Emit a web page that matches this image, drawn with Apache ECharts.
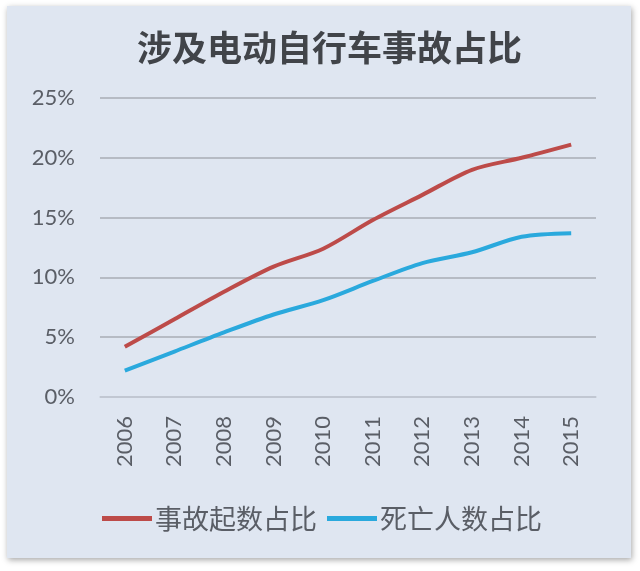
<!DOCTYPE html>
<html><head><meta charset="utf-8">
<script src="https://cdn.jsdelivr.net/npm/echarts@6/dist/echarts.min.js"></script>
<style>html,body{margin:0;padding:0;background:#fff}#c{width:640px;height:571px}</style>
</head><body><div id="c"></div>
<script>
const titleText = '涉及电动自行车事故占比';
const years = ['2006','2007','2008','2009','2010','2011','2012','2013','2014','2015'];
const seriesNames = ['事故起数占比','死亡人数占比'];
const accidentShare = [4.2, 6.5, 8.8, 10.9, 12.4, 14.8, 16.9, 19.0, 20.0, 21.1];
const deathShare = [2.2, 3.8, 5.4, 6.9, 8.1, 9.7, 11.2, 12.1, 13.4, 13.7];

const chart = echarts.init(document.getElementById('c'), null, {renderer:'canvas'});
const fontFam = 'Lato, "Noto Sans CJK SC", sans-serif';
chart.setOption({
  backgroundColor: '#ffffff',
  animation: false,
  graphic: [{
    type: 'rect', left: 7, top: 6, z: -10,
    shape: {width: 624, height: 552},
    style: {fill: '#dfe6f1', shadowBlur: 6, shadowColor: 'rgba(0,0,0,0.35)', shadowOffsetX: 1, shadowOffsetY: 2}
  }],
  title: {
    text: titleText, left: 132, top: 25,
    textStyle: {fontFamily: '"Noto Sans CJK SC", sans-serif', fontSize: 35, fontWeight: 'bold', color: '#414449'}
  },
  legend: {
    top: 500, left: 97, itemWidth: 50, itemHeight: 5, itemGap: 10, icon: 'rect',
    textStyle: {fontFamily: '"Noto Sans CJK SC", sans-serif', fontSize: 27, color: '#5a5e66', padding: [0,0,0,-2]},
    data: seriesNames
  },
  grid: {left: 100, right: 44, top: 98, bottom: 174},
  xAxis: {
    type: 'category', data: years, boundaryGap: true,
    axisLine: {lineStyle: {color: '#c5ccd6', width: 1.5}},
    axisTick: {show: false},
    axisLabel: {rotate: 90, margin: 19, fontFamily: fontFam, fontSize: 22, color: '#5a5e66'}
  },
  yAxis: {
    type: 'value', min: 0, max: 25, interval: 5,
    axisLine: {show: false}, axisTick: {show: false},
    axisLabel: {formatter: '{value}%', margin: 25, fontFamily: fontFam, fontSize: 22, color: '#5a5e66'},
    splitLine: {lineStyle: {color: '#a9adb5', width: 1.5}}
  },
  series: [
    {name: seriesNames[0], type: 'line', data: accidentShare, smooth: 0.3, symbol: 'none',
     lineStyle: {color: '#bd4b49', width: 4}, itemStyle: {color: '#bd4b49'}},
    {name: seriesNames[1], type: 'line', data: deathShare, smooth: 0.3, symbol: 'none',
     lineStyle: {color: '#2aa9dd', width: 4}, itemStyle: {color: '#2aa9dd'}}
  ]
});
</script></body></html>
